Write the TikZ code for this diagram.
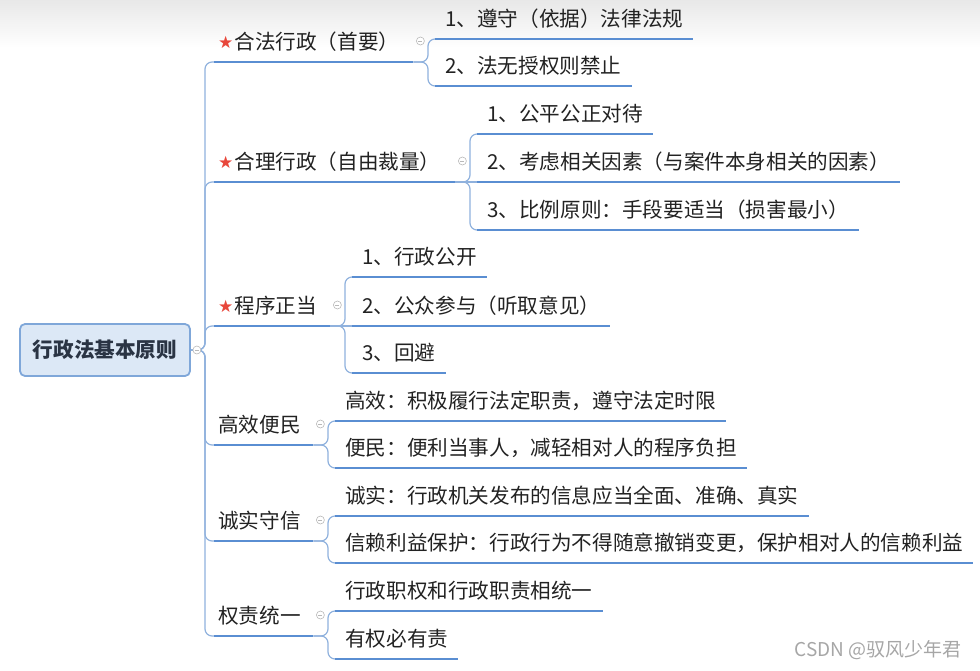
\documentclass[tikz,border=0pt]{standalone}
\usepackage{fontspec}
\setmainfont{Noto Sans CJK SC}
\newfontfamily\symfont{DejaVu Sans}
\usetikzlibrary{positioning}
\definecolor{linkblue}{HTML}{8FB1DD}
\definecolor{lineblue}{HTML}{5A8ED2}
\definecolor{rootfill}{HTML}{DCE8F6}
\definecolor{rootdraw}{HTML}{7FA7D9}
\definecolor{inkgray}{HTML}{222222}
\definecolor{rootink}{HTML}{2A3444}
\definecolor{starred}{HTML}{E8473B}
\newcommand\redstar{\raisebox{1pt}{\textcolor{starred}{\symfont\fontsize{17}{17}\selectfont ★}}\hspace{1pt}}
\tikzset{
	topic/.style={anchor=south west, inner xsep=10pt, inner ysep=0pt, text height=16pt, text depth=12pt, text=inkgray, font=\fontsize{20.6}{24}\selectfont},
	branch/.style={topic, inner xsep=4pt, text width=#1},
	rootbox/.style={draw=rootdraw, fill=rootfill, line width=1.8pt, rounded corners=5pt, minimum width=170pt, minimum height=52pt, text=rootink, font=\bfseries\fontsize{20.6}{24}\selectfont},
	uline/.style={draw=lineblue, line width=2.6pt},
	link/.style={draw=linkblue, line width=1.2pt, rounded corners=7pt},
	fold/.style={circle, draw=gray!55, fill=white, line width=.6pt, minimum size=8pt, inner sep=0pt, path picture={\draw[gray!55, line width=.6pt] ([xshift=-2pt]path picture bounding box.center) -- ([xshift=2pt]path picture bounding box.center);}},
}
\begin{document}
\begin{tikzpicture}[x=1pt, y=1pt]
	\useasboundingbox (0,0) rectangle (980,-670);
	\fill[top color=black!9, bottom color=white] (0,0) rectangle (980,-48);
	\node[rootbox] (root) at (105,-350) {行政法基本原则};
	\node[branch=191pt] (b1) at (214,-62) {\redstar 合法行政（首要）};
	\node[branch=233pt] (b2) at (214,-182) {\redstar 合理行政（自由裁量）};
	\node[branch=108pt] (b3) at (214,-326) {\redstar 程序正当};
	\node[branch=91pt] (b4) at (214,-445) {高效便民};
	\node[branch=91pt] (b5) at (214,-541) {诚实守信};
	\node[branch=91pt] (b6) at (214,-636) {权责统一};
	\node[topic] (c11) at (435,-39) {1、遵守（依据）法律法规};
	\node[topic] (c12) at (435,-86) {2、法无授权则禁止};
	\node[topic] (c21) at (477,-134) {1、公平公正对待};
	\node[topic] (c22) at (477,-182) {2、考虑相关因素（与案件本身相关的因素）};
	\node[topic] (c23) at (477,-230) {3、比例原则：手段要适当（损害最小）};
	\node[topic] (c31) at (352,-277) {1、行政公开};
	\node[topic] (c32) at (352,-326) {2、公众参与（听取意见）};
	\node[topic] (c33) at (352,-373) {3、回避};
	\node[topic] (c41) at (335,-421) {高效：积极履行法定职责，遵守法定时限};
	\node[topic] (c42) at (335,-468) {便民：便利当事人，减轻相对人的程序负担};
	\node[topic] (c51) at (335,-516) {诚实：行政机关发布的信息应当全面、准确、真实};
	\node[topic] (c52) at (335,-563) {信赖利益保护：行政行为不得随意撤销变更，保护相对人的信赖利益};
	\node[topic] (c61) at (335,-611) {行政职权和行政职责相统一};
	\node[topic] (c62) at (335,-659) {有权必有责};
	\foreach \i in {1,...,6}
		\draw[link] (root.east) -| ([xshift=-9pt]b\i.south west) -- (b\i.south west);
	\foreach \p/\c in {b1/c11, b1/c12, b2/c21, b2/c23, b3/c31, b3/c33, b4/c41, b4/c42, b5/c51, b5/c52, b6/c61, b6/c62}
		\draw[link] (\p.south east) -| ([xshift=-7pt]\c.south west) -- (\c.south west);
	\draw[link] (b2.south east) -- (c22.south west);
	\draw[link] (b3.south east) -- (c32.south west);
	\foreach \n in {b1,b2,b3,b4,b5,b6,c11,c12,c21,c22,c23,c31,c32,c33,c41,c42,c51,c52,c61,c62}
		\draw[uline] (\n.south west) -- (\n.south east);
	\node[fold] (r0) at ([xshift=6pt]root.east) {};
	\foreach \i in {1,...,6}
		\node[fold] (f\i) at ([xshift=7pt, yshift=21pt]b\i.south east) {};
	\node[anchor=east, text=gray!70, font=\fontsize{19}{22}\selectfont] (mark) at (965,-650) {CSDN @驭风少年君};
\end{tikzpicture}
\end{document}
